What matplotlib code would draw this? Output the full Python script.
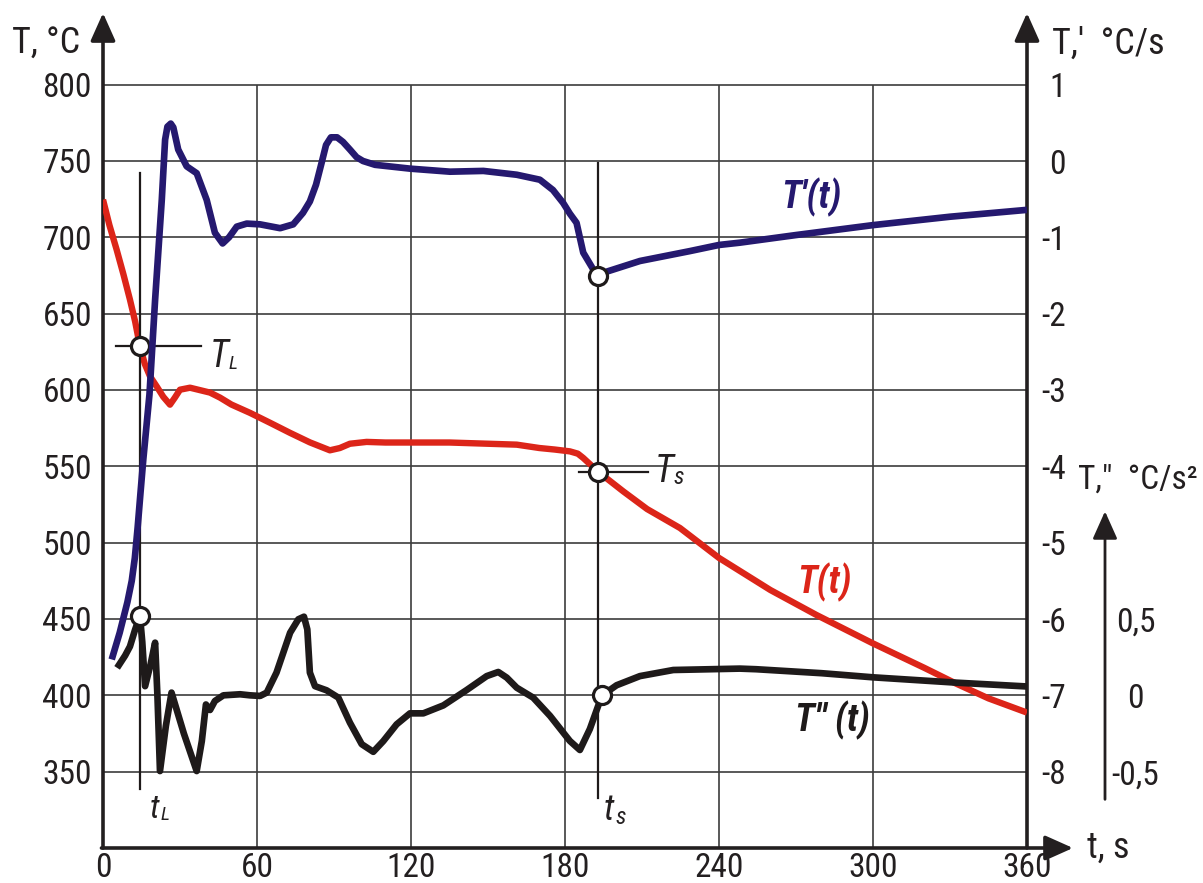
import matplotlib
matplotlib.use("Agg")
import matplotlib.pyplot as plt
from matplotlib import font_manager

# ---- pick a narrow sans font if one exists ----
entries = font_manager.fontManager.ttflist
names = {f.name for f in entries}
FAM, STRETCH, SC = None, 'normal', 1.0
for cand in ['Liberation Sans Narrow', 'Arial Narrow', 'Roboto Condensed',
             'Open Sans Condensed', 'Noto Sans Condensed']:
    if cand in names:
        FAM = cand
        break
if FAM is None:
    for base in ['Roboto', 'Noto Sans', 'Open Sans']:
        if any(f.name == base and str(f.stretch) in ('condensed', 'semi-condensed', '300', '400')
               for f in entries):
            FAM, STRETCH = base, 'condensed'
            break
if FAM is None:
    FAM, SC = 'Liberation Sans', 0.86
plt.rcParams['font.family'] = [FAM, 'DejaVu Sans']
plt.rcParams['font.stretch'] = STRETCH

# ---------------- data ----------------
# T(t), deg C
t_T = [0, 2.5, 5.3, 8, 10.5, 12.5, 14.4, 16.3, 18.3, 20.9, 23.5, 26.1, 28, 30, 33.9, 41.7,
       45.6, 50, 57.3, 65, 72.9, 80.6, 88.4, 92.3, 96.2, 102.7, 110, 135, 161.2, 170, 176,
       181.9, 185, 187.1, 190, 192.9, 202.7, 212, 224.8, 240, 260, 277.9, 300, 320, 332.5,
       345, 360]
T_val = [724.7, 708, 692, 675.5, 659.2, 645, 628.6, 617, 609, 602.4, 595.5, 590.4, 595,
         600.2, 601.5, 598.3, 595, 590.5, 585, 578.6, 571.9, 565.7, 560.5, 562, 564.8, 566,
         565.6, 565.6, 564.2, 562, 561, 559.8, 558.3, 555.5, 551, 546.5, 533.6, 522, 509.6,
         490, 469, 452.7, 434, 418, 407.6, 398, 388.7]

# T'(t), deg C/s  (two branches split at ts)
t_d1a = [3.4, 6.5, 9.5, 11.2, 12.4, 13.5, 14.6, 15.7, 18.1, 20.3, 22.9, 24.2, 25.1, 26.4,
         27.4, 29.3, 32.6, 36.5, 40.4, 43.6, 46.6, 49.1, 52.1, 56, 61.2, 69, 74.1, 77.9,
         80.6, 83, 85.2, 86.9, 88.8, 91.2, 93.5, 96.2, 98.8, 101.3, 106, 119.6, 135.2, 148.2,
         161.2, 170.2, 175.3, 179.3, 181.9, 184.5, 187.1, 191, 192.9]
d1a = [-6.53, -6.18, -5.78, -5.5, -5.2, -4.8, -4.35, -3.91, -3.06, -1.82, -0.51, 0.28, 0.45,
       0.49, 0.44, 0.15, -0.07, -0.16, -0.51, -0.94, -1.08, -1.0, -0.86, -0.82, -0.83,
       -0.88, -0.83, -0.68, -0.53, -0.31, -0.02, 0.21, 0.31, 0.31, 0.25, 0.15, 0.05, 0.0,
       -0.05, -0.10, -0.14, -0.13, -0.18, -0.245, -0.38, -0.55, -0.69, -0.81, -1.2, -1.42,
       -1.5]
t_d1b = [192.9, 196.2, 209.2, 228.7, 240, 248.1, 270, 300, 330, 360]
d1b = [-1.5, -1.45, -1.31, -1.18, -1.1, -1.07, -0.97, -0.84, -0.73, -0.64]

# T''(t), deg C/s^2
t_d2 = [5.5, 8.6, 10.5, 12.5, 14.4, 15.3, 16.4, 18.5, 20.3, 21.2, 22.2, 24.5, 26.7, 31.5,
        36.5, 38.5, 40.1, 41.7, 43.6, 46.9, 53.4, 57.3, 61.2, 63.8, 67.6, 72.9, 76.1, 78.3,
        79.6, 80.6, 82.6, 87.1, 91.7, 96.2, 100.8, 105.3, 109.2, 114.4, 119.6, 124.8, 132.6,
        141.7, 149.5, 154, 157.3, 161.2, 167.6, 174.2, 181.9, 185.8, 189.7, 192.9, 194.5,
        200.1, 209.2, 222.2, 248.1, 254.5, 280, 300, 332.5, 360]
d2 = [0.18, 0.26, 0.32, 0.43, 0.52, 0.35, 0.06, 0.2, 0.345, 0.0, -0.496, -0.2, 0.018, -0.25,
      -0.496, -0.3, -0.06, -0.096, -0.037, 0.0, 0.007, 0.0, -0.004, 0.018, 0.149, 0.41, 0.498,
      0.515, 0.432, 0.149, 0.06, 0.033, -0.015, -0.179, -0.32, -0.37, -0.30, -0.19, -0.118,
      -0.118, -0.066, 0.035, 0.126, 0.153, 0.116, 0.05, -0.015, -0.135, -0.299, -0.358,
      -0.22, -0.07, 0.0, 0.066, 0.126, 0.166, 0.175, 0.171, 0.145, 0.118, 0.083, 0.058]

# characteristic points
tL, TL, d2L = 14.4, 628.6, 0.52
ts, Ts, d1s, d2s = 192.9, 546.6, -1.5, 0.0

x_ticks = [0, 60, 120, 180, 240, 300, 360]
T_ticks = [350, 400, 450, 500, 550, 600, 650, 700, 750, 800]
d1_ticks = [1, 0, -1, -2, -3, -4, -5, -6, -7, -8]
d2_ticks = [0.5, 0, -0.5]
d2_labels = ['0,5', '0', '-0,5']

# ---------------- layout ----------------
W, H = 1203, 883
fig = plt.figure(figsize=(W / 100, H / 100), dpi=100)
X0, X360, YB, YT = 103, 1027, 848, 13
pxs = (X360 - X0) / 360.0          # px per second
pyT = 687 / 450.0                   # px per degC
Tmax = 300 + (YB - YT) / pyT

def fx(x):
    return x / W
def fy(y):
    return 1 - y / H

AX = '#231f20'
BLUE = '#25196f'
RED = '#dc2519'
BLK = '#1e1a1a'
GRID = '#3c3c3c'

ax = fig.add_axes([fx(X0), fy(YB), (X360 - X0) / W, (YB - YT) / H])
ax.set_xlim(0, 360)
ax.set_ylim(300, Tmax)
ax.patch.set_alpha(0)
for s in ax.spines.values():
    s.set_visible(False)

ax2 = ax.twinx()
ax2.set_ylim((300 - 750) / 50.0, (Tmax - 750) / 50.0)
for s in ax2.spines.values():
    s.set_visible(False)

X3 = 1105
ax3 = fig.add_axes([fx(X0), fy(YB), (X3 - X0) / W, (YB - YT) / H])
ax3.set_xlim(0, (X3 - X0) / pxs)
ax3.set_ylim((300 - 400) / 100.0, (Tmax - 400) / 100.0)
ax3.patch.set_alpha(0)
for s in ax3.spines.values():
    s.set_visible(False)
ax3.set_xticks([])
ax3.yaxis.tick_right()

# grid
ax.vlines(x_ticks[1:-1], 300, 800, color=GRID, lw=1.2, zorder=1)
ax.hlines(T_ticks, 0, 360, color=GRID, lw=1.2, zorder=1)

# ticks and labels
FS = 24 * SC
ax.set_xticks(x_ticks)
ax.set_xticklabels([str(v) for v in x_ticks], fontsize=FS)
ax.set_yticks(T_ticks)
ax.set_yticklabels([str(v) for v in T_ticks], fontsize=FS)
ax.tick_params(axis='both', length=0, colors=AX)
ax.tick_params(axis='x', pad=3)
ax.tick_params(axis='y', pad=8)

ax2.set_yticks(d1_ticks)
ax2.set_yticklabels([str(v) for v in d1_ticks], fontsize=FS)
ax2.tick_params(axis='y', which='major', length=0, pad=28, colors=AX)
for lb in ax2.get_yticklabels():
    lb.set_horizontalalignment('right')
ax2.set_yticks([0], minor=True)
ax2.tick_params(axis='y', which='minor', length=7.5, width=2.6, direction='inout',
                color=AX, labelright=False)

ax3.set_yticks(d2_ticks)
ax3.set_yticklabels(d2_labels, fontsize=FS)
ax3.tick_params(axis='y', which='major', length=0, pad=22, colors=AX, left=False,
                labelleft=False, right=True, labelright=True)
for lb in ax3.get_yticklabels():
    lb.set_horizontalalignment('center')
ax3.set_yticks([0], minor=True)
ax3.tick_params(axis='y', which='minor', length=8, width=2.4, direction='inout',
                color=AX, right=True, left=False)

# axis arrows
arr = dict(arrowstyle='-|>,head_length=0.85,head_width=0.38', lw=2.6, color=AX,
           mutation_scale=20, shrinkA=0, shrinkB=0)
ax.annotate('', xy=(0, Tmax), xytext=(0, 300), arrowprops=arr, annotation_clip=False)
ax.annotate('', xy=(360, Tmax), xytext=(360, 300), arrowprops=arr, annotation_clip=False)
ax.annotate('', xy=((1073 - X0) / pxs, 300), xytext=(-0.6, 300), arrowprops=arr,
            annotation_clip=False)
arr3 = dict(arr)
arr3['lw'] = 2.0
ax3.annotate('', xy=(1, (696 - 512) / 152.67), xytext=(1, (696 - 800) / 152.67),
             xycoords=('axes fraction', 'data'), arrowprops=arr3, annotation_clip=False)

# curves
ax.plot(t_T, T_val, color=RED, lw=4.6, solid_capstyle='butt', solid_joinstyle='round', zorder=3)
ax2.plot(t_d1a, d1a, color=BLUE, lw=4.8, solid_capstyle='butt', solid_joinstyle='round', zorder=3)
ax2.plot(t_d1b, d1b, color=BLUE, lw=4.8, solid_capstyle='butt', solid_joinstyle='round', zorder=3)
ax3.plot(t_d2, d2, color=BLK, lw=4.8, solid_capstyle='butt', solid_joinstyle='round', zorder=3)

# marker lines
ML = dict(color=BLK, lw=1.6, zorder=4)
ax.plot([tL, tL], [742.4, 338.9], **ML)
ax.plot([ts, ts], [748.7, 332.6], **ML)
ax.plot([5.0, 38.0], [TL, TL], **ML)
ax.plot([185.5, 212.4], [Ts, Ts], **ML)

MK = dict(marker='o', ms=13, mfc='white', mec=BLK, mew=2.3, ls='none', zorder=6)
ax.plot([tL], [TL], **MK)
ax.plot([ts], [Ts], **MK)
ax2.plot([ts], [d1s], **MK)
ax3.plot([tL], [d2L], **MK)
ax3.plot([ts + 1.6], [d2s], **MK)

# axis titles
def ftext(x, y, s, **kw):
    fig.text(fx(x), fy(y), s, **kw)

TS = 26 * SC
ftext(12, 44, 'T, \u00b0C', fontsize=TS, ha='left', va='center', color=AX)
ftext(1052, 44, 'T,\u2032  \u00b0C/s', fontsize=TS, ha='left', va='center', color=AX)
ftext(1198, 480, 'T,\u2033  \u00b0C/s\u00b2', fontsize=24 * SC, ha='right', va='center', color=AX)
ftext(1087, 848, 't, s', fontsize=TS, ha='left', va='center', color=AX)

# point labels
PS = 27 * SC
ftext(210, 367, 'T', fontsize=PS, style='italic', ha='left', va='baseline', color=AX)
ftext(229, 369, 'L', fontsize=14 * SC, style='italic', ha='left', va='baseline', color=AX)
ftext(655, 482, 'T', fontsize=PS, style='italic', ha='left', va='baseline', color=AX)
ftext(673, 484, 's', fontsize=17 * SC, style='italic', ha='left', va='baseline', color=AX)
ftext(150, 818, 't', fontsize=24 * SC, style='italic', ha='left', va='baseline', color=AX)
ftext(161, 820, 'L', fontsize=14 * SC, style='italic', ha='left', va='baseline', color=AX)
ftext(604, 820, 't', fontsize=26 * SC, style='italic', ha='left', va='baseline', color=AX)
ftext(615, 824, 's', fontsize=17 * SC, style='italic', ha='left', va='baseline', color=AX)

# curve labels
CS = 27 * SC
ftext(811, 197, "T'(t)", fontsize=CS, style='italic', weight='bold', ha='center', va='center', color=BLUE)
ftext(824, 582, 'T(t)', fontsize=CS, style='italic', weight='bold', ha='center', va='center', color=RED)
ftext(832, 720, "T'' (t)", fontsize=CS, style='italic', weight='bold', ha='center', va='center', color=BLK)

fig.savefig('out.png', dpi=100)
